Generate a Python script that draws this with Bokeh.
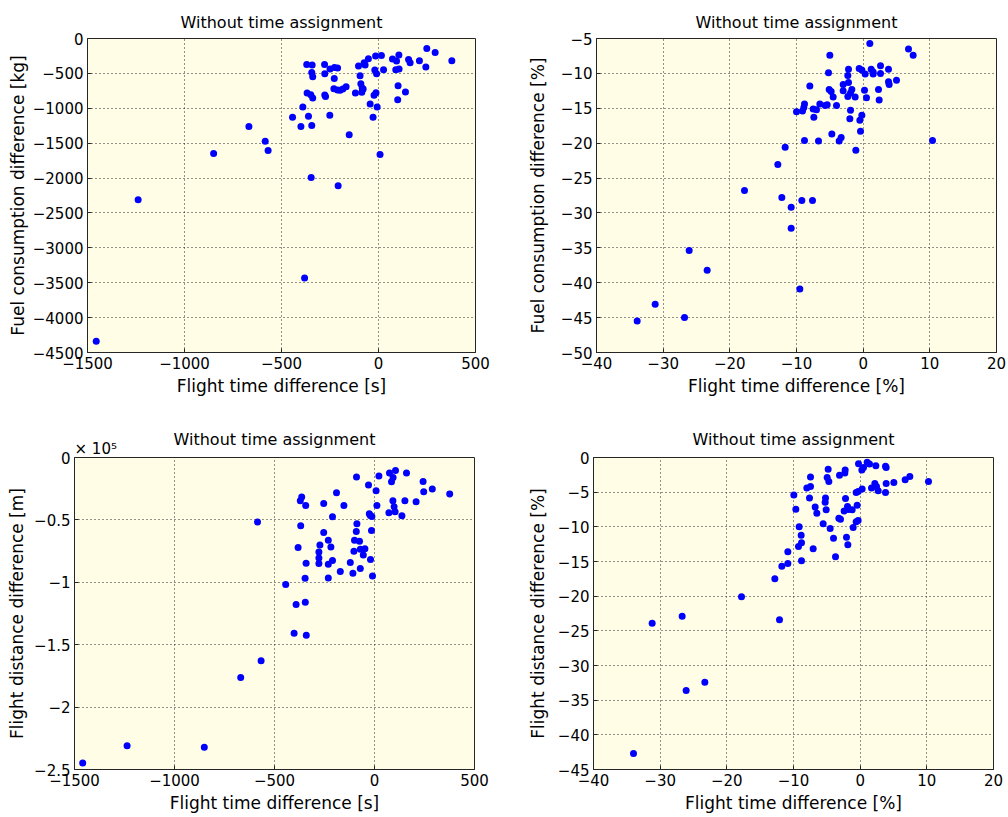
from bokeh.plotting import figure
from bokeh.layouts import column, row
from bokeh.models import Range1d, FixedTicker, Title
from bokeh.embed import file_html
from bokeh.resources import INLINE

# ---------------- data ----------------
TITLE = "Without time assignment"

# top-left: flight time difference [s] vs fuel consumption difference [kg]
tl_x = [-1455, -1239, -850, -668, -584, -569,
        249, 292, 378, 211, 244, 155, 163, 105, 72, 93, 89, 106, 101, 139, 99,
        15, -15, 26, -19, -10, -13, -23, -7, -43, -28, 8,
        -52, -74, -69, -103, -95, -91, -84, -79, -86, -119,
        -167, -184, -198, -211, -230, -228, -227, -211, -250, -277, -278, -273, -277, -251, -151, -208, -347, -381,
        -370, -342, -344, -339, -368, -349, -339, -390, -361, -443, -400, -344]
tl_y = [-4340, -2310, -1648, -1262, -1472, -1605,
        -143, -200, -319, -319, -410, -300, -348, -238, -295, -324, -448, -438, -676, -767, -876,
        -243, -252, -448, -452, -505, -776, -814, -981, -938, -1129, -1662,
        -290, -348, -381, -395, -533, -648, -710, -724, -771, -781,
        -691, -724, -743, -738, -719, -572, -414, -424, -438, -505, -372, -833, -810, -1100, -1381, -2110, -1991, -3434,
        -372, -381, -486, -548, -781, -805, -852, -981, -1115, -1129, -1262, -1248]

# top-right: flight time difference [%] vs fuel consumption difference [%]
tr_x = [-11.7, -12.8, -17.8, -12.2, -10.8, -10.8, -26.1, -23.4, -9.5, -31.2, -33.9, -26.8,
        1.0, 6.8, 7.5, -5.0, -5.2, -2.2, -2.3, -2.2, -3.0, -3.0, -1.7, -1.9, -2.3, -1.2, -0.6,
        -0.2, 0.3, 1.2, 1.5, 1.5, 2.6, 2.6, 3.8, 3.8, 3.9, 5.0, 0.2, 0.5, 2.3, 2.4, -1.9, -2.0,
        -0.2, -0.5, -0.4, -1.1, -3.3, -3.6, -4.7, -6.7, -8.8, 10.4, -4.0, -4.5, -4.8, -5.1, -5.4,
        -5.7, -6.5, -8.0, -7.0, -7.5, -7.4, -8.8, -8.9, -9.1, -10.0, -9.2, -7.6]
tr_y = [-20.6, -23.05, -26.8, -27.8, -29.2, -32.2, -35.4, -38.2, -40.9, -43.1, -45.5, -45.0,
        -5.7, -6.5, -7.4, -7.4, -9.9, -9.4, -10.3, -11.3, -11.6, -12.5, -12.3, -12.8, -13.3, -13.4, -9.3,
        -9.5, -10.1, -9.4, -9.8, -10.1, -8.9, -10.0, -9.4, -11.2, -11.6, -11.0, -12.4, -13.5, -12.3, -13.8, -15.3, -16.5,
        -16.0, -16.7, -18.3, -21.0, -19.2, -19.7, -18.7, -19.7, -19.6, -19.6, -14.6, -13.4, -12.6, -12.3, -14.5,
        -14.6, -14.4, -11.8, -15.2, -15.1, -16.3, -14.4, -14.9, -15.4, -15.5, -28.2, -28.2]

# bottom-left: flight time difference [s] vs flight distance difference [x 10^5 m]
bl_x = [-1459, -1237, -851, -669, -567, -585,
        -90, -30, 8, 22, 75, 105, 93, 85, 160, 243, 289, 246, 376, 208, 152, 92, 98, 103, 72, 137, 12,
        -26, -21, -13, -15, -20, -10,
        -88, -91, -100, -75, -103, -71, -48, -56, -121, -108, -71, -153, -190, -210, -254, -254, -231,
        -218, -273, -278, -278, -278, -231, -210, -171, -231,
        -364, -371, -344, -369, -382, -342, -347, -444, -392, -346, -402, -341]
bl_y_1e5 = [-2.448, -2.309, -2.322, -1.762, -1.629, -0.517,
            -0.157, -0.221, -0.266, -0.149, -0.125, -0.104, -0.160, -0.194, -0.125, -0.192, -0.253, -0.274,
            -0.293, -0.354, -0.346, -0.346, -0.394, -0.434, -0.442, -0.466, -0.384, -0.450, -0.464, -0.472,
            -0.584, -0.818, -0.949,
            -0.530, -0.592, -0.664, -0.672, -0.752, -0.736, -0.731, -0.781, -0.842, -0.928, -0.890, -0.384,
            -0.282, -0.474, -0.368, -0.600, -0.664, -0.717, -0.701, -0.757, -0.805, -0.850, -0.856, -0.826,
            -0.914, -0.965,
            -0.317, -0.346, -0.384, -0.546, -0.722, -0.848, -0.968, -1.018, -1.178, -1.160, -1.408, -1.424]

# bottom-right: flight time difference [%] vs flight distance difference [%]
br_x = [-34.0, -31.2, -26.7, -26.1, -23.3, -17.8, -12.8, -12.1, -11.75, -10.85, -10.85,
        -0.25, 1.05, 1.4, 2.35, 3.8, 3.9, 0.25, 0.5, -2.25, -2.3, -3.1, -4.8, -4.95, -4.7,
        -7.45, -7.45, -8.0, -7.6, -9.95, -9.65, -6.75, -6.5, -5.2, -5.25, -5.1, -5.55, -4.5, -4.0,
        -3.7, -7.05, -3.2, -2.95, -2.4, -2.2, -1.9, -1.75, -1.2, -0.45, -0.6, -0.3, 0.3, -1.05,
        -0.6, -0.3, -2.05, -1.85, 1.7, 2.2, 2.45, 2.7, 3.8, 3.9, 5.05, 6.75, 7.45, 10.25,
        -9.15, -8.85, -8.8, -9.25, -8.8]
br_y = [-42.7, -23.9, -22.9, -33.6, -32.4, -20.1, -17.5, -23.4, -15.7, -15.3, -13.6,
        -0.9, -0.7, -0.95, -1.2, -1.25, -1.45, -1.8, -1.45, -1.8, -2.25, -2.55, -1.7, -2.9, -3.45,
        -2.8, -4.2, -4.4, -5.85, -5.4, -7.45, -7.15, -8.05, -5.85, -6.45, -7.55, -9.55, -10.25, -11.65,
        -14.3, -13.15, -8.75, -8.9, -7.7, -5.9, -7.05, -7.5, -7.55, -6.9, -5.05, -4.9, -4.55, -10.1,
        -9.25, -9.1, -11.5, -12.6, -4.4, -3.75, -4.2, -4.8, -5.05, -3.75, -3.6, -3.2, -2.75, -3.45,
        -10.0, -11.2, -12.3, -12.85, -14.9]

# ticks and tick labels
sec_ticks = [-1500, -1000, -500, 0, 500]
sec_labels = ["\u22121500", "\u22121000", "\u2212500", "0", "500"]
pct_ticks = [-40, -30, -20, -10, 0, 10, 20]
pct_labels = ["\u221240", "\u221230", "\u221220", "\u221210", "0", "10", "20"]
kg_ticks = [0, -500, -1000, -1500, -2000, -2500, -3000, -3500, -4000, -4500]
kg_labels = ["0", "\u2212500", "\u22121000", "\u22121500", "\u22122000", "\u22122500",
             "\u22123000", "\u22123500", "\u22124000", "\u22124500"]
fuelpct_ticks = [-5, -10, -15, -20, -25, -30, -35, -40, -45, -50]
fuelpct_labels = ["\u22125", "\u221210", "\u221215", "\u221220", "\u221225", "\u221230",
                  "\u221235", "\u221240", "\u221245", "\u221250"]
dist_ticks = [0, -0.5, -1, -1.5, -2, -2.5]
dist_labels = ["0", "\u22120.5", "\u22121", "\u22121.5", "\u22122", "\u22122.5"]
distpct_ticks = [0, -5, -10, -15, -20, -25, -30, -35, -40, -45]
distpct_labels = ["0", "\u22125", "\u221210", "\u221215", "\u221220", "\u221225",
                  "\u221230", "\u221235", "\u221240", "\u221245"]
DIST_EXPONENT = "\u00d7 10\u2075"

# ---------------- style ----------------
FONT = "DejaVu Sans"
BG = "#fffde6"
DARK = "#262626"


def panel(x, y, xr, yr, xt, xtl, yt, ytl, xlab, ylab, width, height, bl, br, bt, bb, ylab_standoff):
    p = figure(width=width, height=height, x_range=Range1d(*xr), y_range=Range1d(*yr),
               output_backend="svg", toolbar_location=None, title=TITLE,
               min_border_left=bl, min_border_right=br, min_border_top=bt, min_border_bottom=bb)
    p.title.align = "center"
    p.title.text_font = FONT
    p.title.text_font_size = "16px"
    p.title.text_font_style = "normal"
    p.title.text_color = "black"
    p.title.standoff = 14
    p.background_fill_color = BG
    p.border_fill_color = "white"
    p.outline_line_color = DARK
    p.outline_line_width = 1
    for ax, t, tl, lab in ((p.xaxis[0], xt, xtl, xlab), (p.yaxis[0], yt, ytl, ylab)):
        ax.ticker = FixedTicker(ticks=t)
        ax.major_label_overrides = dict(zip(t, tl))
        ax.axis_label = lab
        ax.axis_label_text_font = FONT
        ax.axis_label_text_font_size = "17px"
        ax.axis_label_text_font_style = "normal"
        ax.axis_label_text_color = "black"
        ax.major_label_text_font = FONT
        ax.major_label_text_font_size = "15px"
        ax.major_label_text_color = "black"
        ax.major_tick_in = 4
        ax.major_tick_out = 0
        ax.major_tick_line_color = DARK
        ax.minor_tick_line_color = None
        ax.axis_line_color = DARK
        ax.major_label_standoff = 4
        ax.axis_label_standoff = 4
    p.yaxis[0].axis_label_standoff = ylab_standoff
    p.grid.grid_line_color = DARK
    p.grid.grid_line_dash = "1 3"
    p.grid.grid_line_width = 1
    p.scatter(x, y, size=7, color="#0000ff", line_color=None)
    return p


p_tl = panel(tl_x, tl_y, (-1500, 500), (-4500, 0), sec_ticks, sec_labels, kg_ticks, kg_labels,
             "Flight time difference [s]", "Fuel consumption difference [kg]",
             500, 410, 87, 25, 38, 58, 2)
p_tr = panel(tr_x, tr_y, (-40, 20), (-50, -5), pct_ticks, pct_labels, fuelpct_ticks, fuelpct_labels,
             "Flight time difference [%]", "Fuel consumption difference [%]",
             508, 410, 96, 12, 38, 58, 10)
p_bl = panel(bl_x, bl_y_1e5, (-1500, 500), (-2.5, 0), sec_ticks, sec_labels, dist_ticks, dist_labels,
             "Flight time difference [s]", "Flight distance difference [m]",
             500, 406, 74, 26, 47, 47, 4)
p_br = panel(br_x, br_y, (-40, 20), (-45, 0), pct_ticks, pct_labels, distpct_ticks, distpct_labels,
             "Flight time difference [%]", "Flight distance difference [%]",
             508, 406, 93, 15, 47, 47, 7)

# exponent note of the bottom-left distance axis
p_bl.title.standoff = -22
p_br.title.standoff = 17
p_bl.add_layout(Title(text=DIST_EXPONENT, align="left", text_font=FONT, text_font_size="15px",
                      text_font_style="normal", text_color="black", standoff=0), "above")

layout = column(row(p_tl, p_tr), row(p_bl, p_br))
open("out.html", "w").write(file_html(layout, INLINE))
